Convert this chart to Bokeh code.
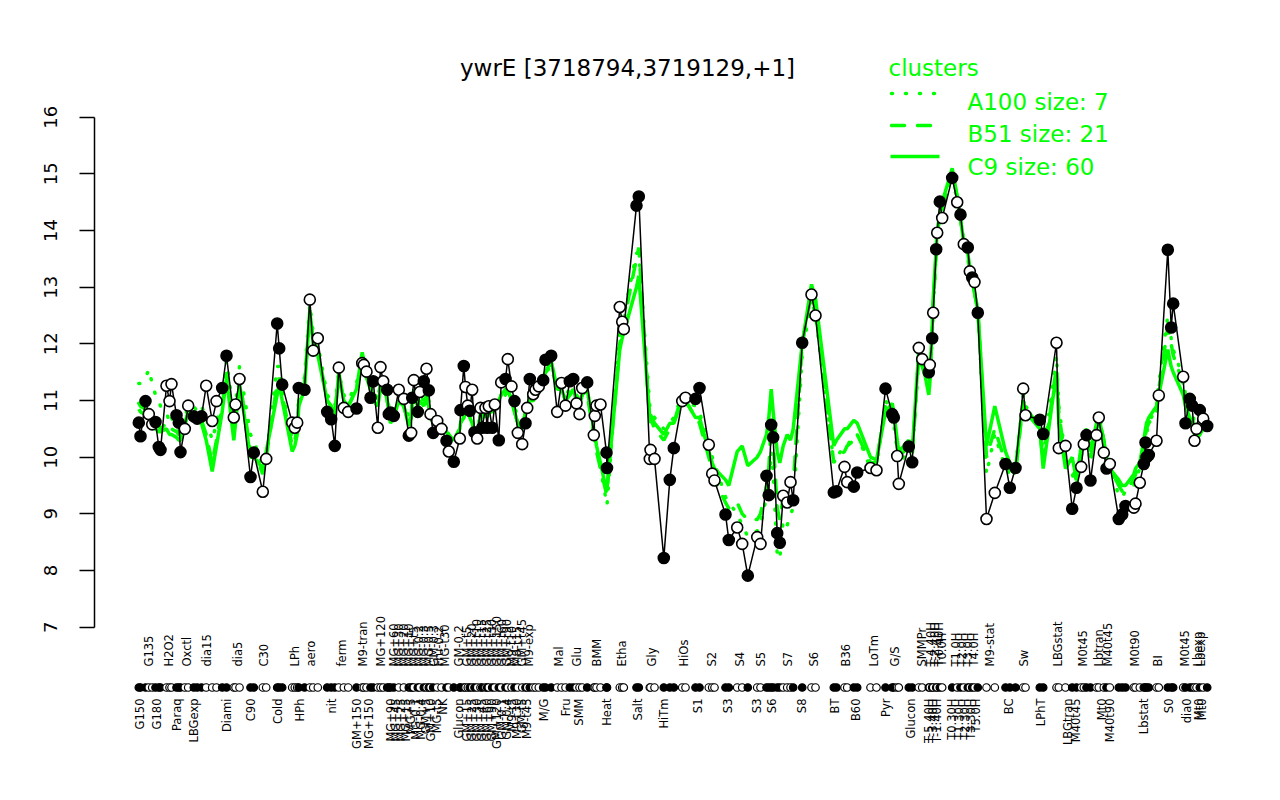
import math
from bokeh.plotting import figure
from bokeh.models import Range1d, FixedTicker, ColumnDataSource
from bokeh.core.properties import value
from bokeh.embed import file_html
from bokeh.resources import INLINE

# ---------------- data ----------------
# position of each array along the condition axis (arbitrary position units)
pos = [
    138.3, 140.0, 145.0, 148.3, 151.7, 155.0, 158.3, 160.0, 166.0, 169.0,
    171.0, 176.0, 178.3, 180.0, 184.3, 187.7, 193.3, 196.7, 201.0, 205.7,
    211.7, 216.0, 221.7, 226.0, 233.3, 235.0, 239.0, 250.0, 253.3, 262.3,
    265.7, 276.7, 278.7, 281.7, 291.7, 294.3, 296.7, 298.3, 304.0, 309.3,
    312.7, 317.3, 326.7, 330.7, 334.3, 338.3, 343.3, 347.7, 356.0, 361.7,
    363.3, 366.0, 370.0, 372.7, 377.3, 380.0, 382.7, 386.7, 388.3, 390.0,
    393.3, 398.3, 403.3, 408.3, 410.7, 411.7, 413.3, 417.3, 419.3, 423.3,
    426.0, 428.3, 430.0, 432.7, 436.7, 441.0, 446.0, 448.3, 453.3, 459.3,
    460.0, 463.3, 465.0, 467.3, 469.3, 471.7, 474.0, 476.7, 480.0, 481.7,
    485.0, 486.7, 488.3, 491.7, 494.3, 498.3, 500.7, 505.0, 507.3, 511.0,
    514.0, 517.3, 521.7, 525.0, 526.7, 529.3, 532.7, 535.0, 538.3, 542.7,
    545.0, 550.7, 556.7, 561.0, 565.0, 569.3, 572.7, 576.0, 579.0, 581.7,
    586.7, 593.3, 594.3, 596.0, 600.0, 606.0, 606.5, 619.3, 621.7, 623.3,
    636.0, 638.3, 649.3, 650.0, 654.0, 663.3, 669.3, 673.3, 681.7, 685.0,
    695.0, 699.0, 708.3, 711.7, 714.0, 725.0, 728.3, 736.7, 741.7, 747.3,
    756.7, 760.0, 766.0, 768.3, 770.7, 772.7, 776.7, 779.3, 782.7, 786.7,
    790.0, 792.7, 801.7, 811.0, 815.0, 833.3, 836.0, 844.0, 846.7, 853.3,
    856.7, 870.0, 876.0, 885.0, 891.7, 893.3, 896.7, 898.3, 908.3, 911.7,
    918.3, 921.7, 928.3, 929.3, 931.7, 932.7, 935.7, 936.7, 939.3, 941.7,
    951.7, 956.7, 960.0, 963.3, 967.3, 969.3, 971.7, 974.0, 977.3, 986.0,
    994.3, 1005.0, 1009.3, 1015.0, 1022.7, 1025.0, 1039.3, 1042.7, 1056.0, 1058.3,
    1065.0, 1071.7, 1076.0, 1080.7, 1083.3, 1086.0, 1090.0, 1096.0, 1098.3, 1103.3,
    1106.0, 1109.3, 1118.3, 1121.7, 1125.0, 1133.3, 1135.0, 1139.3, 1143.3, 1145.0,
    1146.0, 1148.3, 1156.0, 1158.3, 1167.3, 1170.7, 1172.7, 1182.7, 1185.0, 1189.3,
    1191.7, 1194.0, 1196.0, 1199.3, 1202.7, 1206.7,
]

# ywrE expression (log2)
expr = [
    10.61, 10.37, 10.99, 10.76, 10.58, 10.62, 10.18, 10.13, 11.26, 10.99,
    11.29, 10.74, 10.61, 10.09, 10.50, 10.91, 10.72, 10.68, 10.72, 11.26,
    10.64, 10.99, 11.22, 11.79, 10.70, 10.93, 11.38, 9.65, 10.08, 9.39,
    9.97, 12.36, 11.92, 11.28, 10.61, 10.52, 10.61, 11.22, 11.19, 12.78,
    11.88, 12.10, 10.80, 10.67, 10.20, 11.58, 10.87, 10.80, 10.86, 11.66,
    11.63, 11.51, 11.05, 11.34, 10.52, 11.59, 11.34, 11.19, 10.76, 10.79,
    10.73, 11.19, 11.03, 10.38, 10.43, 11.05, 11.36, 10.80, 11.15, 11.34,
    11.56, 11.18, 10.76, 10.43, 10.64, 10.50, 10.29, 10.10, 9.92, 10.33,
    10.83, 11.61, 11.24, 10.91, 10.82, 11.19, 10.44, 10.33, 10.87, 10.52,
    10.87, 10.52, 10.90, 10.52, 10.93, 10.30, 11.32, 11.38, 11.73, 11.25,
    10.99, 10.43, 10.23, 10.60, 10.87, 11.38, 11.11, 11.19, 11.25, 11.36,
    11.72, 11.79, 10.80, 11.31, 10.91, 11.34, 11.38, 10.95, 10.76, 11.22,
    11.32, 10.39, 10.73, 10.91, 10.93, 10.08, 9.81, 12.65, 12.39, 12.26,
    14.44, 14.60, 9.97, 10.13, 9.97, 8.22, 9.60, 10.16, 10.99, 11.05,
    11.03, 11.22, 10.22, 9.71, 9.59, 8.99, 8.54, 8.76, 8.47, 7.91,
    8.59, 8.47, 9.67, 9.33, 10.57, 10.35, 8.66, 8.49, 9.32, 9.20,
    9.56, 9.24, 12.02, 12.87, 12.50, 9.38, 9.40, 9.83, 9.56, 9.48,
    9.73, 9.81, 9.77, 11.21, 10.76, 10.70, 10.02, 9.53, 10.19, 9.91,
    11.93, 11.73, 11.50, 11.63, 12.10, 12.55, 13.67, 13.96, 14.51, 14.22,
    14.93, 14.50, 14.28, 13.76, 13.70, 13.28, 13.17, 13.09, 12.55, 8.91,
    9.37, 9.88, 9.46, 9.81, 11.21, 10.74, 10.66, 10.41, 12.02, 10.16,
    10.20, 9.09, 9.46, 9.83, 10.23, 10.39, 9.59, 10.39, 10.70, 10.08,
    9.80, 9.88, 8.91, 8.99, 9.14, 9.11, 9.18, 9.55, 9.88, 10.26,
    10.00, 10.04, 10.29, 11.09, 13.66, 12.29, 12.71, 11.42, 10.60, 11.03,
    10.91, 10.29, 10.50, 10.83, 10.68, 10.55,
]

# 1 = filled marker, 0 = open marker
filled = [
    1, 1, 1, 0, 0, 1, 1, 1, 0, 0,
    0, 1, 1, 1, 0, 0, 1, 1, 1, 0,
    0, 0, 1, 1, 0, 0, 0, 1, 1, 0,
    0, 1, 1, 1, 0, 0, 0, 1, 1, 0,
    0, 0, 1, 1, 1, 0, 0, 0, 1, 0,
    0, 0, 1, 1, 0, 0, 0, 1, 1, 1,
    1, 0, 0, 1, 0, 1, 0, 1, 0, 1,
    0, 1, 0, 1, 0, 0, 1, 0, 1, 0,
    1, 1, 0, 0, 1, 0, 1, 0, 0, 1,
    0, 1, 0, 1, 0, 1, 0, 1, 0, 0,
    1, 0, 0, 1, 0, 1, 0, 0, 0, 1,
    1, 1, 0, 0, 0, 1, 1, 0, 0, 0,
    1, 0, 0, 0, 0, 1, 1, 0, 0, 0,
    1, 1, 0, 0, 0, 1, 1, 1, 0, 0,
    1, 1, 0, 0, 0, 1, 1, 0, 0, 1,
    0, 0, 1, 1, 1, 1, 1, 1, 0, 0,
    0, 1, 1, 0, 0, 1, 1, 0, 0, 1,
    1, 0, 0, 1, 1, 1, 0, 0, 1, 1,
    0, 0, 1, 0, 1, 0, 1, 0, 1, 0,
    1, 0, 1, 0, 1, 0, 1, 0, 1, 0,
    0, 1, 1, 1, 0, 0, 1, 1, 0, 0,
    0, 1, 1, 0, 0, 1, 1, 0, 0, 0,
    1, 0, 1, 1, 1, 0, 0, 0, 1, 1,
    1, 1, 0, 0, 1, 1, 1, 0, 1, 1,
    1, 0, 0, 1, 0, 1,
]

# cluster profiles
c9 = [
    10.85, 10.8, 10.75, 10.7, 10.6, 10.5, 10.45, 10.45, 10.5, 10.4,
    10.4, 10.35, 10.3, 10.3, 10.55, 10.8, 10.75, 10.7, 10.6, 10.3,
    9.75, 10.2, 10.8, 11.4, 10.3, 10.6, 11.3, 10.0, 10.0, 9.8,
    10.1, 11.1, 11.3, 11.0, 10.1, 10.2, 10.4, 10.9, 11.2, 12.6,
    12.0, 11.8, 11.0, 10.9, 10.7, 11.5, 11.0, 10.9, 11.2, 11.85,
    11.7, 11.4, 11.2, 11.0, 10.9, 11.2, 11.4, 11.0, 10.8, 10.6,
    10.7, 11.0, 10.9, 10.55, 10.7, 11.0, 11.2, 10.9, 11.0, 10.9,
    11.1, 10.9, 10.7, 10.6, 10.65, 10.55, 10.45, 10.4, 10.3, 10.5,
    10.6, 10.7, 10.8, 10.8, 10.7, 10.6, 10.4, 10.3, 10.8, 10.7,
    10.75, 10.7, 10.8, 10.8, 10.9, 11.0, 11.1, 11.2, 11.2, 11.0,
    10.8, 10.6, 10.5, 10.8, 10.9, 11.0, 11.0, 11.1, 11.2, 11.4,
    11.5, 11.7, 11.2, 11.2, 11.0, 11.1, 11.2, 11.0, 10.9, 11.1,
    11.2, 10.5, 10.4, 10.2, 9.9, 9.4, 9.45, 11.9, 12.1, 12.2,
    13.0, 13.2, 10.7, 10.75, 10.6, 10.4, 10.6, 10.6, 11.1, 11.0,
    10.7, 10.7, 10.1, 9.9, 9.8, 9.6, 9.5, 10.1, 10.2, 9.85,
    10.0, 10.1, 10.4, 10.7, 11.2, 10.8, 10.1, 9.9, 10.2, 10.4,
    10.3, 10.5, 12.0, 13.05, 12.8, 10.2, 10.3, 10.5, 10.5, 10.65,
    10.6, 10.0, 9.95, 10.8, 10.95, 10.8, 10.3, 10.1, 10.3, 10.1,
    11.9, 11.7, 11.1, 11.3, 12.3, 12.8, 13.7, 14.0, 14.3, 14.5,
    15.1, 14.6, 14.2, 13.8, 13.6, 13.35, 13.2, 12.9, 12.6, 10.2,
    10.9, 10.1, 9.9, 9.8, 11.0, 10.8, 10.5, 9.8, 11.5, 10.6,
    9.8, 10.0, 9.6, 10.2, 10.4, 10.5, 10.1, 10.6, 10.7, 10.3,
    10.0, 9.8, 9.6, 9.5, 9.5, 9.7, 9.8, 9.9, 10.3, 10.5,
    10.6, 10.7, 10.9, 11.1, 11.9, 11.6, 11.5, 11.1, 10.9, 10.7,
    10.6, 10.4, 10.3, 10.4, 10.5, 10.5,
]

b51 = [
    10.95, 10.9, 10.85, 10.8, 10.75, 10.65, 10.55, 10.5, 10.6, 10.5,
    10.5, 10.45, 10.4, 10.4, 10.6, 10.8, 10.7, 10.7, 10.65, 10.4,
    9.9, 10.3, 10.9, 11.5, 10.5, 10.7, 11.4, 10.1, 10.1, 9.7,
    10.0, 11.3, 11.4, 11.1, 10.2, 10.3, 10.5, 11.0, 11.3, 12.5,
    12.1, 11.9, 11.0, 10.9, 10.8, 11.4, 11.0, 10.9, 11.2, 11.7,
    11.6, 11.4, 11.2, 11.1, 11.0, 11.3, 11.4, 11.0, 10.85, 10.7,
    10.75, 11.0, 10.9, 10.6, 10.7, 11.0, 11.1, 10.9, 11.0, 10.9,
    11.0, 10.9, 10.8, 10.7, 10.7, 10.6, 10.5, 10.4, 10.3, 10.5,
    10.6, 10.7, 10.8, 10.8, 10.7, 10.6, 10.4, 10.3, 10.7, 10.7,
    10.75, 10.7, 10.8, 10.8, 10.9, 10.9, 11.0, 11.1, 11.2, 11.0,
    10.8, 10.6, 10.5, 10.8, 10.9, 11.0, 11.0, 11.1, 11.2, 11.4,
    11.5, 11.6, 11.2, 11.2, 11.0, 11.1, 11.2, 11.0, 11.0, 11.1,
    11.1, 10.4, 10.3, 10.1, 9.8, 9.35, 9.4, 12.0, 12.3, 12.4,
    13.5, 13.7, 10.6, 10.7, 10.5, 10.3, 10.5, 10.6, 11.0, 11.0,
    10.7, 10.6, 10.0, 9.75, 9.6, 9.2, 9.1, 9.2, 9.0, 8.9,
    8.9, 9.0, 9.5, 9.8, 10.6, 10.3, 9.1, 8.9, 9.3, 9.4,
    9.6, 9.5, 12.0, 12.9, 12.6, 9.9, 10.0, 10.1, 10.2, 10.3,
    10.4, 9.9, 9.9, 10.9, 10.9, 10.8, 10.2, 10.0, 10.2, 10.0,
    11.8, 11.6, 11.2, 11.4, 12.2, 12.7, 13.6, 13.9, 14.3, 14.4,
    15.0, 14.6, 14.2, 13.8, 13.6, 13.3, 13.2, 12.9, 12.6, 10.0,
    10.5, 9.9, 9.8, 9.7, 11.0, 10.9, 10.5, 9.9, 11.6, 10.8,
    9.9, 9.8, 9.6, 10.1, 10.3, 10.4, 10.0, 10.5, 10.7, 10.3,
    10.0, 9.8, 9.5, 9.4, 9.4, 9.6, 9.7, 9.9, 10.2, 10.4,
    10.5, 10.6, 10.8, 11.2, 12.3, 12.0, 11.8, 11.3, 11.0, 10.8,
    10.7, 10.5, 10.4, 10.5, 10.6, 10.6,
]

a100 = [
    11.3, 11.3, 11.4, 11.55, 11.3, 11.1, 11.0, 10.9, 10.8, 10.6,
    10.7, 10.5, 10.4, 10.6, 10.7, 10.9, 10.9, 10.8, 10.9, 10.7,
    10.3, 10.6, 11.0, 11.7, 10.8, 10.9, 11.6, 10.4, 10.3, 9.8,
    10.0, 11.6, 11.6, 11.2, 10.3, 10.4, 10.6, 11.1, 11.4, 12.7,
    12.2, 12.0, 11.1, 11.0, 10.9, 11.5, 11.1, 11.0, 11.3, 11.8,
    11.7, 11.5, 11.3, 11.2, 11.0, 11.3, 11.4, 11.1, 10.9, 10.8,
    10.8, 11.0, 11.0, 10.7, 10.8, 11.0, 11.2, 11.0, 11.1, 11.0,
    11.1, 11.0, 10.8, 10.7, 10.7, 10.6, 10.5, 10.4, 10.3, 10.5,
    10.6, 10.8, 10.8, 10.8, 10.7, 10.7, 10.4, 10.4, 10.8, 10.7,
    10.8, 10.7, 10.8, 10.8, 10.9, 11.0, 11.1, 11.2, 11.3, 11.1,
    10.9, 10.7, 10.6, 10.8, 11.0, 11.1, 11.1, 11.1, 11.2, 11.4,
    11.6, 11.7, 11.2, 11.3, 11.1, 11.2, 11.2, 11.1, 11.0, 11.1,
    11.2, 10.5, 10.4, 10.2, 9.8, 9.2, 9.15, 12.2, 12.4, 12.5,
    13.6, 13.6, 10.9, 10.9, 10.7, 10.5, 10.6, 10.7, 11.1, 11.0,
    10.9, 10.8, 10.2, 10.0, 9.9, 9.3, 9.2, 9.0, 8.8, 8.6,
    8.7, 8.8, 9.3, 9.4, 10.1, 9.7, 8.3, 8.2, 8.9, 8.8,
    9.0, 9.1, 11.8, 12.8, 12.5, 9.9, 10.0, 10.2, 10.2, 10.4,
    10.4, 9.8, 9.8, 11.0, 10.8, 10.6, 10.1, 9.9, 10.1, 10.0,
    11.8, 11.6, 11.3, 11.4, 12.1, 12.6, 13.6, 13.9, 14.2, 14.4,
    15.0, 14.5, 14.2, 13.8, 13.5, 13.3, 13.1, 12.9, 12.6, 9.7,
    10.4, 9.8, 9.7, 9.8, 11.1, 10.9, 10.6, 10.0, 11.8, 10.9,
    10.0, 9.7, 9.5, 10.0, 10.3, 10.4, 9.9, 10.6, 10.8, 10.3,
    10.0, 9.9, 9.3, 9.3, 9.4, 9.5, 9.6, 9.8, 10.1, 10.3,
    10.4, 10.6, 10.9, 11.3, 12.5, 12.1, 11.9, 11.4, 11.1, 10.9,
    10.8, 10.6, 10.5, 10.6, 10.6, 10.6,
]

# condition labels shown below the marker row
lower_pos = [139, 156, 176, 193, 226, 250, 277, 299, 331, 356, 368,
             390, 395, 400, 405, 410, 415, 420, 425, 430, 436, 442,
             458, 466, 471, 476, 481, 486, 491, 496, 501, 506, 511, 516, 521, 526,
             543, 565, 578, 606, 637, 663, 697, 727, 756, 771, 801, 834, 855,
             885, 910, 928, 932, 936, 951, 958, 964, 970, 975,
             1008, 1040, 1067, 1075, 1101, 1109, 1143, 1168, 1186, 1198, 1201]
lower_lab = ["G150", "G180", "Paraq", "LBGexp", "Diami", "C90", "Cold", "HPh", "nit", "GM+150", "MG+150",
             "MG+90", "MG+45", "MG+25", "MG+15", "MG+5", "MG-0.1", "MG-0.4", "GM+5", "GM+10", "MG-t5", "NK",
             "Glucon", "GM+15", "GM+25", "GM+30", "GM+45", "GM+60", "GM+90", "GM+120", "GM-0.1", "GM-0.4",
             "M9-t5", "M9-t30", "GM-t5", "M9-t45",
             "M/G", "Fru", "SMM", "Heat", "Salt", "HiTm", "S1", "S3", "S3", "S6", "S8", "BT", "B60",
             "Pyr", "Glucon", "T-5.40H", "T-3.40H", "T-1.40H", "T0.30H", "T1.30H", "T2.30H", "T3.30H", "T5.0H",
             "BC", "LPhT", "LBGtran", "M40t45", "Mt0", "M40t90", "Lbstat", "S0", "dia0", "Mt0", "Mt0"]

# condition labels shown above the marker row
upper_pos = [148, 168, 186, 206, 237, 263, 294, 310, 341, 362, 380,
             393, 398, 403, 408, 413, 418, 423, 428, 433, 438, 444,
             458, 466, 471, 476, 481, 486, 491, 496, 501, 506, 511, 516, 521, 528,
             558, 576, 596, 621, 651, 683, 711, 739, 760, 787, 813, 845, 873, 894,
             921, 930, 934, 938, 941, 955, 961, 967, 973,
             989, 1023, 1057, 1082, 1098, 1107, 1134, 1157, 1184, 1197, 1200]
upper_lab = ["G135", "H2O2", "Oxctl", "dia15", "dia5", "C30", "LPh", "aero", "ferm", "M9-tran", "MG+120",
             "MG+60", "MG+30", "MG+20", "MG+10", "MG+t5", "MG-0.2", "MG-0.3", "MG-0.5", "GM-0.3", "Fru-0.2", "MG-t30",
             "GM-0.2", "GM+t5", "GM+20", "GM+t10", "GM+t15", "GM+t25", "GM+t30", "GM+150", "GM+t60", "GM+t90",
             "M9-t10", "M9-t15", "GM+t45", "M9-exp",
             "Mal", "Glu", "BMM", "Etha", "Gly", "HiOs", "S2", "S4", "S5", "S7", "S6", "B36", "LoTm", "G/S",
             "SMMPr", "T-4.40H", "T-2.40H", "T-0.40H", "T0.0H", "T1.0H", "T2.0H", "T3.0H", "T4.0H",
             "M9-stat", "Sw", "LBGstat", "M0t45", "Lbtran", "M40t45", "M0t90", "BI", "M0t45", "Lbexp", "Lbexp"]

y_ticks = [7, 8, 9, 10, 11, 12, 13, 14, 15, 16]
title_text = "ywrE [3718794,3719129,+1]"
legend_title = "clusters"
legend_labels = ["A100 size: 7", "B51 size: 21", "C9 size: 60"]

# ---------------- styling constants ----------------
GREEN = "#00ff00"
FONT = "DejaVu Sans"
ROW_Y = 5.936        # marker row under the plot
UPPER_Y = 6.307      # start of upper label row

src = ColumnDataSource(dict(
    x=pos, y=expr, c9=c9, b51=b51, a100=a100,
    fill=["black" if f else "white" for f in filled],
))

p = figure(width=1264, height=784,
           x_range=Range1d(94, 1249), y_range=Range1d(5.8124, 17.530),
           output_backend="svg", toolbar_location=None, title=None,
           min_border_left=94, min_border_right=15, min_border_top=30, min_border_bottom=90)
p.outline_line_color = None
p.background_fill_color = "white"
p.border_fill_color = "white"
p.xgrid.visible = False
p.ygrid.visible = False

# y axis
yax = p.yaxis[0]
yax.bounds = (7, 16)
yax.ticker = FixedTicker(ticks=y_ticks, minor_ticks=[])
yax.axis_line_width = 1.5
yax.major_tick_line_width = 1.5
yax.major_tick_out = 15
yax.major_tick_in = 0
yax.minor_tick_line_color = None
yax.major_label_orientation = "parallel"
yax.major_label_standoff = 22
yax.major_label_text_font = FONT
yax.major_label_text_font_size = "18px"
yax.major_label_text_color = "black"

# x axis: lower labels
xax = p.xaxis[0]
xax.ticker = FixedTicker(ticks=lower_pos, minor_ticks=[])
xax.major_label_overrides = {k: v for k, v in zip(lower_pos, lower_lab)}
xax.axis_line_color = None
xax.major_tick_line_color = None
xax.minor_tick_line_color = None
xax.major_tick_out = 0
xax.major_tick_in = 0
xax.major_label_orientation = math.pi / 2
xax.major_label_standoff = 4
xax.major_label_text_font = FONT
xax.major_label_text_font_size = "11.5px"
xax.major_label_text_color = "black"

# cluster profiles
p.line("x", "a100", source=src, line_color=GREEN, line_width=3.5,
       line_dash="1 13", line_cap="round")
p.line("x", "b51", source=src, line_color=GREEN, line_width=3.5,
       line_dash="13 13", line_cap="round")
p.line("x", "c9", source=src, line_color=GREEN, line_width=3.5)

# gene profile
p.line("x", "y", source=src, line_color="black", line_width=1.5)
p.scatter("x", "y", source=src, size=11, fill_color="fill", line_color="black", line_width=1.6)

# marker row under the plot
p.scatter("x", ROW_Y, source=src, size=7.5, fill_color="fill", line_color="black", line_width=1.2)

# upper condition labels
p.text(x=upper_pos, y=UPPER_Y, text=upper_lab, angle=math.pi / 2,
       text_align="left", text_baseline="middle",
       text_font=value(FONT), text_font_size="11.5px", text_color="black")

# title
p.text(x=[627], y=[16.86], text=[title_text], text_align="center", text_baseline="alphabetic",
       text_font=value(FONT), text_font_size="23px", text_color="black")

# legend (R style, no box)
p.text(x=[888], y=[16.86], text=[legend_title], text_align="left", text_baseline="alphabetic",
       text_font=value(FONT), text_font_size="23px", text_color=GREEN)
p.line(x=[891, 938], y=[16.42, 16.42], line_color=GREEN, line_width=3.5, line_dash="1 13", line_cap="round")
p.line(x=[891, 938], y=[15.854, 15.854], line_color=GREEN, line_width=3.5, line_dash="13 13", line_cap="round")
p.line(x=[890, 939], y=[15.307, 15.307], line_color=GREEN, line_width=3.5)
p.text(x=[967, 967, 967], y=[16.268, 15.712, 15.121], text=legend_labels,
       text_align="left", text_baseline="alphabetic",
       text_font=value(FONT), text_font_size="23px", text_color=GREEN)

open("out.html", "w").write(file_html(p, INLINE))
